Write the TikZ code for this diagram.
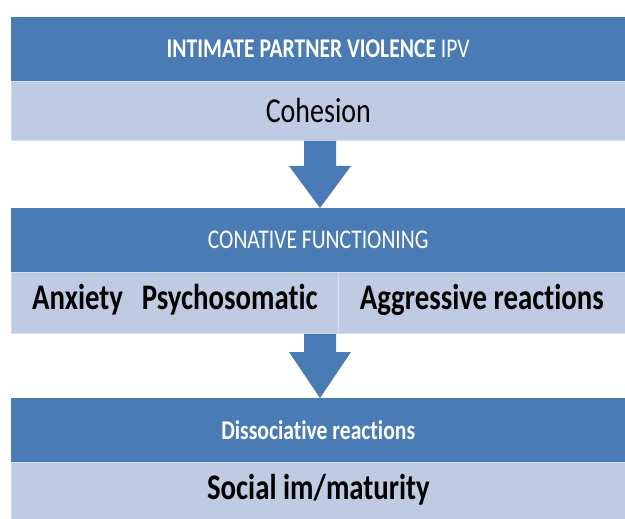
\documentclass[tikz,border=0pt]{standalone}
\usepackage{fontspec}
\usepackage{graphicx}
\setmainfont{Carlito}[Ligatures=NoCommon]
\usetikzlibrary{calc}
\definecolor{bandblue}{HTML}{4A7BB5}
\definecolor{bandlight}{HTML}{BFCBE2}
\definecolor{bandedge}{HTML}{D6DEEC}
\newcommand{\sq}[1]{\scalebox{0.8}[1]{#1}}
\tikzset{
  darkband/.style={fill=bandblue, draw=none, anchor=north west, inner sep=0pt, text=white},
  lightband/.style={fill=bandlight, draw=bandedge, line width=0.8pt, anchor=north west, inner sep=0pt, text=black},
  headtext/.style={font=\fontsize{27}{30}\selectfont},
  bodytext/.style={font=\fontsize{36}{40}\selectfont\bfseries},
  blockarrow/.style={fill=bandblue, draw=none}
}
\begin{document}
\begin{tikzpicture}[x=1pt,y=-1pt]
\useasboundingbox (0,0) rectangle (625,519);
% band 1
\node[darkband, minimum width=614pt, minimum height=64pt] (d1) at (11,17) {};
\node[headtext, text=white] (d1t) at (d1.center) {\sq{\textbf{INTIMATE PARTNER VIOLENCE} IPV}};
\node[lightband, minimum width=614pt, minimum height=59pt] (l1) at (11,81) {};
\node[font=\fontsize{35}{40}\selectfont] (l1t) at (l1.center) {\sq{Cohesion}};
% band 2
\node[darkband, minimum width=614pt, minimum height=64pt] (d2) at (11,208) {};
\node[headtext, text=white] (d2t) at (d2.center) {\sq{CONATIVE FUNCTIONING}};
\node[lightband, minimum width=327pt, minimum height=61pt] (l2a) at (11,272) {};
\node[lightband, minimum width=287pt, minimum height=61pt] (l2b) at (338,272) {};
\node[bodytext] (l2at) at ($(l2a.center)+(0,-3)$) {\sq{Anxiety\hspace{0.65em}Psychosomatic}};
\node[bodytext] (l2bt) at ($(l2b.center)+(0,-3)$) {\sq{Aggressive reactions}};
% band 3
\node[darkband, minimum width=614pt, minimum height=64pt] (d3) at (11,398) {};
\node[headtext, text=white, font=\fontsize{27}{30}\selectfont\bfseries] (d3t) at (d3.center) {\sq{Dissociative reactions}};
\node[lightband, minimum width=614pt, minimum height=60pt] (l3) at (11,462) {};
\node[bodytext] (l3t) at ($(l3.center)+(0,-3)$) {\sq{Social im/maturity}};
% arrows
\coordinate (ax) at (320,0);
\coordinate (s1) at (l1.south -| ax);
\coordinate (t1) at (d2.north -| ax);
\coordinate (s2) at (l2a.south -| ax);
\coordinate (t2) at (d3.north -| ax);
\fill[blockarrow] ($(s1)+(-16,0)$) -- ($(s1)+(16,0)$) -- ($(t1)+(16,-42)$) -- ($(t1)+(31,-42)$) -- (t1) -- ($(t1)+(-31,-42)$) -- ($(t1)+(-16,-42)$) -- cycle;
\fill[blockarrow] ($(s2)+(-16,0)$) -- ($(s2)+(16,0)$) -- ($(t2)+(16,-46)$) -- ($(t2)+(31,-46)$) -- (t2) -- ($(t2)+(-31,-46)$) -- ($(t2)+(-16,-46)$) -- cycle;
\end{tikzpicture}
\end{document}
